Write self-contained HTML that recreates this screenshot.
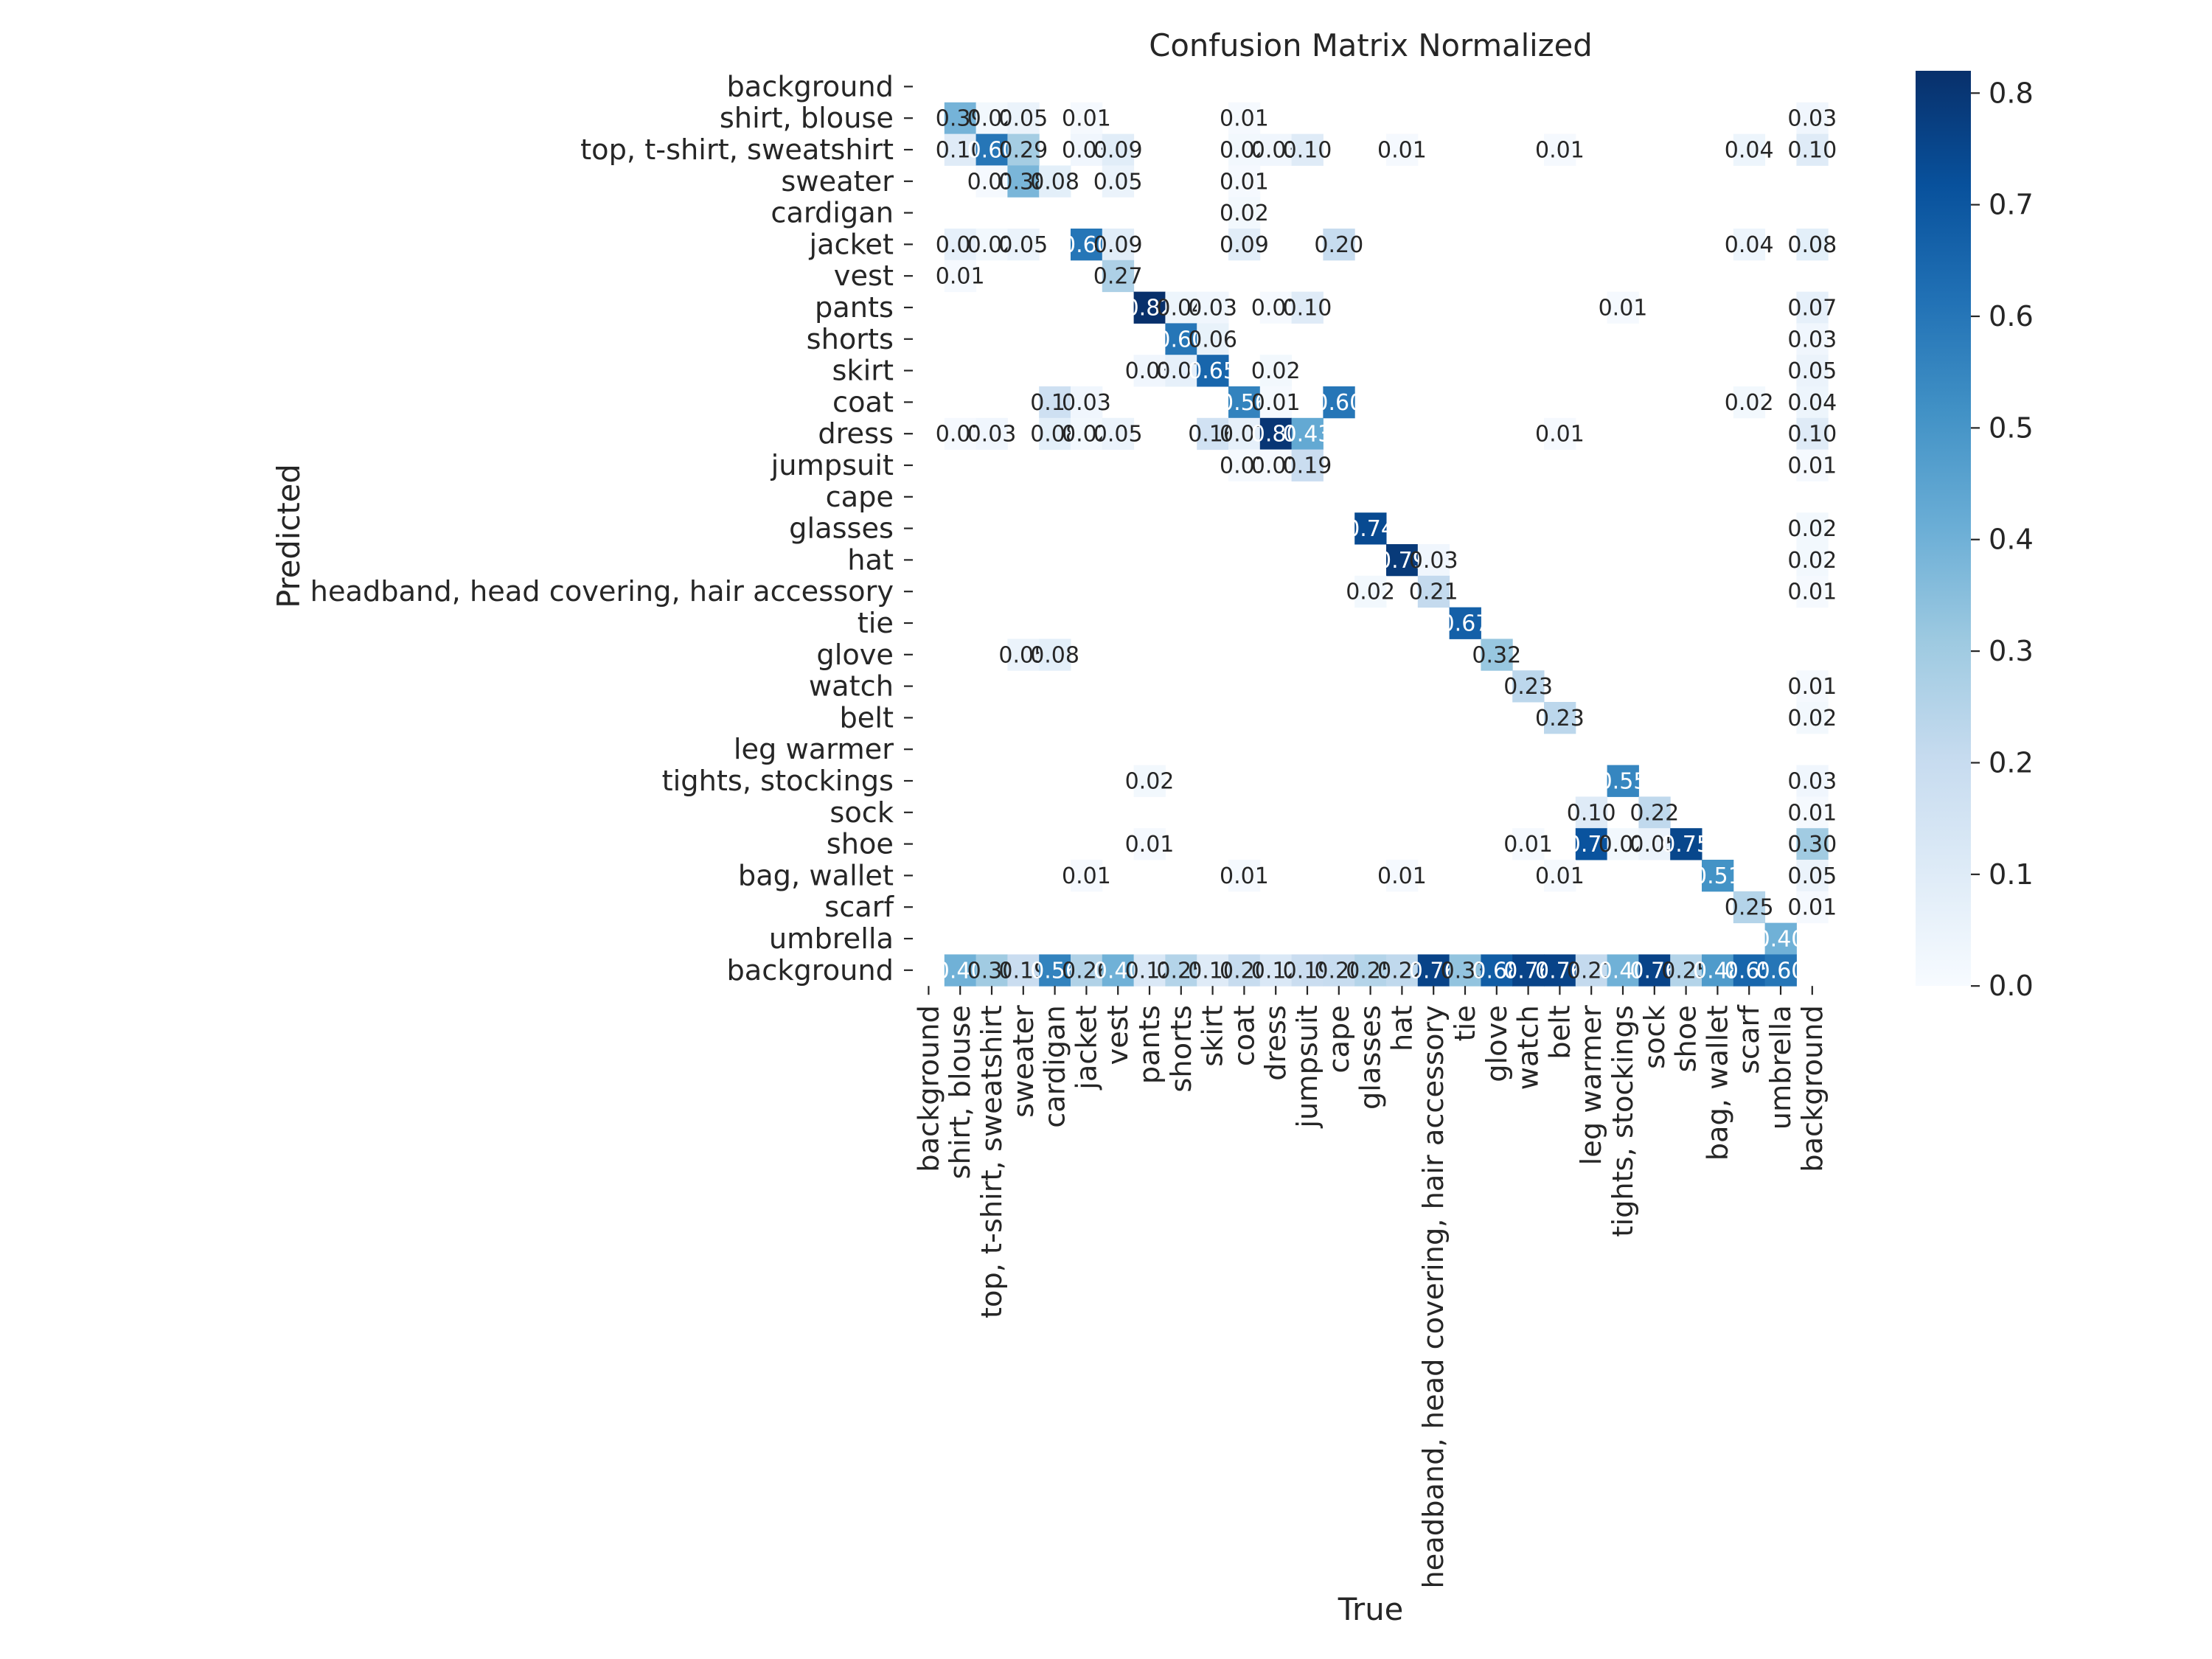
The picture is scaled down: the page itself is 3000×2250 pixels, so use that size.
<!DOCTYPE html>
<html><head><meta charset="utf-8"><style>
html,body{margin:0;padding:0;background:#fff}
svg{display:block;font-family:"DejaVu Sans","Liberation Sans",sans-serif}
</style></head><body>
<svg id="chart" width="3000" height="2250" xmlns="http://www.w3.org/2000/svg">
<text x="1859" y="76" font-size="41.7" text-anchor="middle" fill="#262626">Confusion Matrix Normalized</text>
<text x="1859" y="2197" font-size="41.7" text-anchor="middle" fill="#262626">True</text>
<text transform="translate(406,727) rotate(-90)" font-size="41.7" text-anchor="middle" fill="#262626">Predicted</text>
<g id="cells"></g>
<g id="ylabels"></g>
<g id="xlabels"></g>
<g id="cbar"></g>
</svg>
<script>
const classLabels = ["background","shirt, blouse","top, t-shirt, sweatshirt","sweater","cardigan","jacket","vest","pants","shorts","skirt","coat","dress","jumpsuit","cape","glasses","hat","headband, head covering, hair accessory","tie","glove","watch","belt","leg warmer","tights, stockings","sock","shoe","bag, wallet","scarf","umbrella","background"];
// sparse entries: [predictedRow, trueCol, value]
const entries = [
[1,1,0.39],[1,2,0.02],[1,3,0.05],[1,5,0.01],[1,10,0.01],[1,28,0.03],
[2,1,0.10],[2,2,0.60],[2,3,0.29],[2,5,0.03],[2,6,0.09],[2,10,0.02],[2,11,0.03],[2,12,0.10],[2,15,0.01],[2,20,0.01],[2,26,0.04],[2,28,0.10],
[3,2,0.01],[3,3,0.38],[3,4,0.08],[3,6,0.05],[3,10,0.01],
[4,10,0.02],
[5,1,0.07],[5,2,0.02],[5,3,0.05],[5,5,0.60],[5,6,0.09],[5,10,0.09],[5,13,0.20],[5,26,0.04],[5,28,0.08],
[6,1,0.01],[6,6,0.27],
[7,7,0.82],[7,8,0.04],[7,9,0.03],[7,11,0.01],[7,12,0.10],[7,22,0.01],[7,28,0.07],
[8,8,0.60],[8,9,0.06],[8,28,0.03],
[9,7,0.03],[9,8,0.07],[9,9,0.65],[9,11,0.02],[9,28,0.05],
[10,4,0.17],[10,5,0.03],[10,10,0.56],[10,11,0.01],[10,13,0.60],[10,26,0.02],[10,28,0.04],
[11,1,0.01],[11,2,0.03],[11,4,0.08],[11,5,0.02],[11,6,0.05],[11,9,0.16],[11,10,0.07],[11,11,0.80],[11,12,0.43],[11,20,0.01],[11,28,0.10],
[12,10,0.01],[12,11,0.01],[12,12,0.19],[12,28,0.01],
[14,14,0.74],[14,28,0.02],
[15,15,0.79],[15,16,0.03],[15,28,0.02],
[16,14,0.02],[16,16,0.21],[16,28,0.01],
[17,17,0.67],
[18,3,0.05],[18,4,0.08],[18,18,0.32],
[19,19,0.23],[19,28,0.01],
[20,20,0.23],[20,28,0.02],
[22,7,0.02],[22,22,0.55],[22,28,0.03],
[23,21,0.10],[23,23,0.22],[23,28,0.01],
[24,7,0.01],[24,19,0.01],[24,21,0.71],[24,22,0.02],[24,23,0.05],[24,24,0.75],[24,28,0.30],
[25,5,0.01],[25,10,0.01],[25,15,0.01],[25,20,0.01],[25,25,0.51],[25,28,0.05],
[26,26,0.25],[26,28,0.01],
[27,27,0.40]
];
const backgroundRow = [0,0.40,0.30,0.19,0.56,0.26,0.40,0.12,0.25,0.10,0.20,0.12,0.19,0.20,0.25,0.22,0.76,0.33,0.68,0.76,0.76,0.21,0.40,0.76,0.25,0.48,0.65,0.60,0];
const cbarTicks = [0.0,0.1,0.2,0.3,0.4,0.5,0.6,0.7,0.8];
const vmax = 0.82;

const NS="http://www.w3.org/2000/svg";
const L=1238, T=96, C=42.8, N=classLabels.length;
const xPos=j=>L+j*C, yPos=i=>T+i*C;
const stops=[[247,251,255],[222,235,247],[198,219,239],[158,202,225],[107,174,214],[66,146,198],[33,113,181],[8,81,156],[8,48,107]];
function color(v){let t=Math.max(0,Math.min(1,v/vmax))*8;let k=Math.min(7,Math.floor(t));let f=t-k;
 const a=stops[k],b=stops[k+1];return `rgb(${a.map((x,i)=>Math.round(x+(b[i]-x)*f)).join(',')})`;}
function mk(tag,attrs,parent,text){const e=document.createElementNS(NS,tag);for(const k in attrs)e.setAttribute(k,attrs[k]);if(text!==undefined)e.textContent=text;parent.appendChild(e);return e;}

const matrix=[];for(let i=0;i<N;i++)matrix.push(new Array(N).fill(0));
entries.forEach(([r,c,v])=>matrix[r][c]=v);
backgroundRow.forEach((v,j)=>matrix[N-1][j]=v);

const cells=document.getElementById('cells');
for(let i=0;i<N;i++)for(let j=0;j<N;j++){const v=matrix[i][j];if(!v)continue;
 const r=mk('rect',{x:xPos(j),y:yPos(i),width:C+0.5,height:C+0.5,fill:color(v)},cells);
 
 
 const t=mk('text',{x:xPos(j)+C/2,y:yPos(i)+C/2+10.5,'font-size':30,'text-anchor':'middle',fill:v>=0.40?'#ffffff':'#262626'},cells,v.toFixed(2));
 
 
}
const yl=document.getElementById('ylabels');
classLabels.forEach((lab,i)=>{const y=yPos(i)+C/2;
 mk('line',{x1:L-12,x2:L,y1:y,y2:y,stroke:'#262626','stroke-width':2.2},yl);
 const t=mk('text',{x:L-26,y:y+13,'font-size':38.3,'text-anchor':'end',fill:'#262626'},yl,lab);
 
 
});
const xl=document.getElementById('xlabels');const B=T+N*C;
classLabels.forEach((lab,j)=>{const x=xPos(j)+C/2;
 mk('line',{x1:x,x2:x,y1:B,y2:B+12,stroke:'#262626','stroke-width':2.2},xl);
 const t=mk('text',{transform:`translate(${x+13},${B+26}) rotate(-90)`,'font-size':38.3,'text-anchor':'end',fill:'#262626'},xl,lab);
 
 
});
const cb=document.getElementById('cbar');const CX=2598,CW=75;
const defs=mk('defs',{},cb);const g=mk('linearGradient',{id:'bl',x1:0,y1:1,x2:0,y2:0},defs);
stops.forEach((s,k)=>mk('stop',{offset:k/8,'stop-color':`rgb(${s.join(',')})`},g));
mk('rect',{x:CX,y:T,width:CW,height:B-T,fill:'url(#bl)'},cb);
const cy=v=>B-(v/vmax)*(B-T);
cbarTicks.forEach(v=>{const y=cy(v);
 mk('line',{x1:CX+CW,x2:CX+CW+12,y1:y,y2:y,stroke:'#262626','stroke-width':2.2},cb);
 const t=mk('text',{x:CX+CW+24,y:y+13,'font-size':38.3,fill:'#262626'},cb,v.toFixed(1));
 
 
});
</script>
</body></html>
